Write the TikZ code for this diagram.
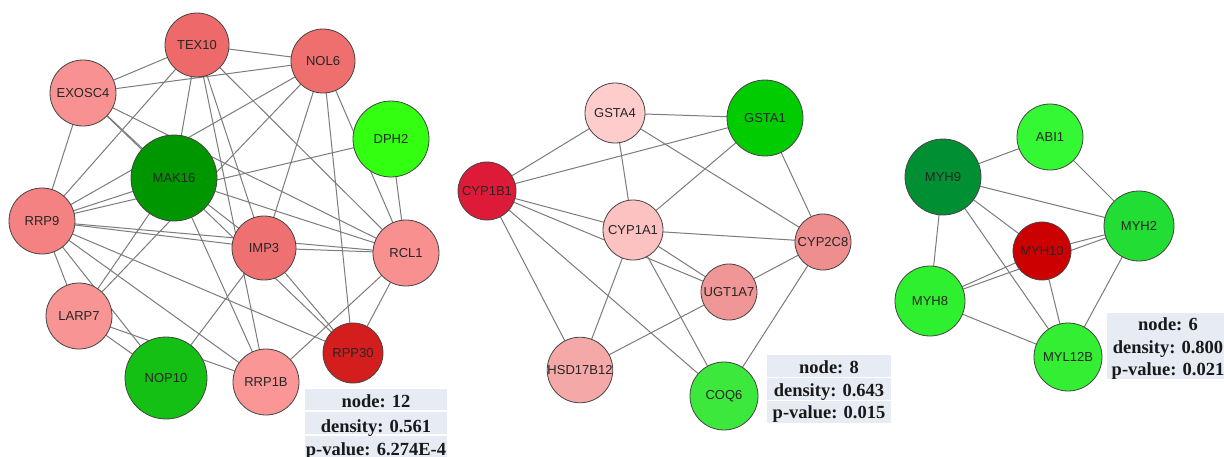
\documentclass[tikz,border=0pt]{standalone}
\usepackage{fontspec}
\setmainfont{Liberation Serif}
\newfontfamily\genefont{Liberation Sans}
\usetikzlibrary{backgrounds}
\definecolor{edgec}{HTML}{7C7C7C}
\definecolor{rimc}{HTML}{444444}
\definecolor{infobg}{HTML}{E6EBF4}
% network 1
\definecolor{cTEX}{HTML}{EE6A6A}
\definecolor{cNOL}{HTML}{EF6E6E}
\definecolor{cEXO}{HTML}{F89292}
\definecolor{cDPH}{HTML}{33FF11}
\definecolor{cMAK}{HTML}{009600}
\definecolor{cRRP9}{HTML}{F48282}
\definecolor{cIMP}{HTML}{EE7070}
\definecolor{cRCL}{HTML}{F89090}
\definecolor{cLARP}{HTML}{F99494}
\definecolor{cRPP}{HTML}{D41E1E}
\definecolor{cNOP}{HTML}{14C014}
\definecolor{cRRP1B}{HTML}{FA9696}
% network 2
\definecolor{cGSTAf}{HTML}{FFCCCC}
\definecolor{cGSTAo}{HTML}{00CC00}
\definecolor{cCYPb}{HTML}{DD1A38}
\definecolor{cCYPa}{HTML}{FCC2C2}
\definecolor{cCYPc}{HTML}{EE8E8E}
\definecolor{cUGT}{HTML}{F09696}
\definecolor{cHSD}{HTML}{F5A8A8}
\definecolor{cCOQ}{HTML}{3DE83D}
% network 3
\definecolor{cABI}{HTML}{33F833}
\definecolor{cMYH9}{HTML}{008F33}
\definecolor{cMYH2}{HTML}{22DD33}
\definecolor{cMYH10}{HTML}{CC0000}
\definecolor{cMYH8}{HTML}{2EF02E}
\definecolor{cMYL}{HTML}{33EE33}
\begin{document}
\begin{tikzpicture}[x=1pt,y=-1pt,
  gene/.style={circle, draw=rimc, line width=0.8pt, inner sep=0pt,
    font=\genefont\fontsize{13}{13}\selectfont, text=black!85},
  lnk/.style={draw=edgec, line width=1pt},
  inforow/.style={fill=infobg, inner sep=0pt, minimum height=21.5pt},
  infotext/.style={anchor=base, inner sep=0pt,
    font=\fontsize{18.5}{18.5}\selectfont\bfseries, text=black!90}]
\useasboundingbox (0,0) rectangle (1224,456);

% ---------- network 1 ----------
\node[gene, minimum size=64pt, fill=cTEX] (tex) at (197,45) {TEX10};
\node[gene, minimum size=64pt, fill=cNOL] (nol) at (323,61) {NOL6};
\node[gene, minimum size=66pt, fill=cEXO] (exo) at (83,93) {EXOSC4};
\node[gene, minimum size=76pt, fill=cDPH] (dph) at (391,139) {DPH2};
\node[gene, minimum size=86pt, fill=cMAK] (mak) at (174,178) {MAK16};
\node[gene, minimum size=66pt, fill=cRRP9] (rrp9) at (42,221) {RRP9};
\node[gene, minimum size=64pt, fill=cIMP] (imp) at (264,248) {IMP3};
\node[gene, minimum size=66pt, fill=cRCL] (rcl) at (406,253) {RCL1};
\node[gene, minimum size=66pt, fill=cLARP] (larp) at (79,316) {LARP7};
\node[gene, minimum size=60pt, fill=cRPP] (rpp) at (353,353) {RPP30};
\node[gene, minimum size=82pt, fill=cNOP] (nop) at (166,378) {NOP10};
\node[gene, minimum size=66pt, fill=cRRP1B] (rrp1b) at (266,382) {RRP1B};

% ---------- network 2 ----------
\node[gene, minimum size=60pt, fill=cGSTAf] (gsta4) at (615,113) {GSTA4};
\node[gene, minimum size=76pt, fill=cGSTAo] (gsta1) at (765,118) {GSTA1};
\node[gene, minimum size=58pt, fill=cCYPb] (cyp1b1) at (487,191) {CYP1B1};
\node[gene, minimum size=60pt, fill=cCYPa] (cyp1a1) at (633,230) {CYP1A1};
\node[gene, minimum size=56pt, fill=cCYPc] (cyp2c8) at (823,242) {CYP2C8};
\node[gene, minimum size=56pt, fill=cUGT] (ugt) at (729,292) {UGT1A7};
\node[gene, minimum size=60pt, fill=cHSD] (hsd) at (580,370) {HSD17B12};
\node[gene, minimum size=68pt, fill=cCOQ] (coq) at (724,396) {COQ6};

% ---------- network 3 ----------
\node[gene, minimum size=66pt, fill=cABI] (abi) at (1050,137) {ABI1};
\node[gene, minimum size=76pt, fill=cMYH9] (myh9) at (943,177) {MYH9};
\node[gene, minimum size=70pt, fill=cMYH2] (myh2) at (1139,226) {MYH2};
\node[gene, minimum size=58pt, fill=cMYH10] (myh10) at (1042,251) {MYH10};
\node[gene, minimum size=70pt, fill=cMYH8] (myh8) at (930,301) {MYH8};
\node[gene, minimum size=68pt, fill=cMYL] (myl) at (1068,357) {MYL12B};

% ---------- info boxes ----------
\node[inforow, minimum width=142pt] (r1a) at (376,399.5) {};
\node[inforow, minimum width=142pt] (r1b) at (376,423) {};
\node[inforow, minimum width=142pt] (r1c) at (376,446.5) {};
\node[infotext] (t1a) at (376,407.5) {node: 12};
\node[infotext] (t1b) at (376,432) {density: 0.561};
\node[infotext] (t1c) at (376,455.5) {p-value: 6.274E-4};

\node[inforow, minimum width=124pt] (r2a) at (829,366) {};
\node[inforow, minimum width=124pt] (r2b) at (829,389) {};
\node[inforow, minimum width=124pt] (r2c) at (829,412) {};
\node[infotext] (t2a) at (829,373.5) {node: 8};
\node[infotext] (t2b) at (829,396.5) {density: 0.643};
\node[infotext] (t2c) at (829,418.5) {p-value: 0.015};

\node[inforow, minimum width=118pt] (r3a) at (1166,324) {};
\node[inforow, minimum width=118pt] (r3b) at (1166,346) {};
\node[inforow, minimum width=118pt] (r3c) at (1166,368) {};
\node[infotext] (t3a) at (1168,330.5) {node: 6};
\node[infotext] (t3b) at (1168,353) {density: 0.800};
\node[infotext] (t3c) at (1168,375) {p-value: 0.021};

\begin{pgfonlayer}{background}
\fill[white] (0,0) rectangle (1224,456);
% network 1 edges
\foreach \a/\b in {tex/nol, tex/exo, tex/rrp9, tex/mak, tex/imp, tex/rrp1b, tex/rcl,
  nol/exo, nol/rrp9, nol/larp, nol/imp, nol/rpp, nol/rcl,
  exo/rrp9, exo/mak, exo/rpp, exo/rcl,
  dph/rrp9, dph/rcl,
  rrp9/mak, rrp9/imp, rrp9/rcl, rrp9/rpp, rrp9/rrp1b, rrp9/nop, rrp9/larp,
  mak/rcl, mak/imp, mak/rrp1b, mak/larp,
  imp/rcl, imp/rpp, imp/nop,
  rcl/rrp1b, rcl/rpp,
  larp/nop, larp/rrp1b}
  \draw[lnk] (\a.center) -- (\b.center);
% network 2 edges
\foreach \a/\b in {gsta4/gsta1, gsta4/cyp1b1, gsta4/cyp1a1, gsta4/cyp2c8,
  gsta1/cyp1b1, gsta1/cyp1a1, gsta1/cyp2c8,
  cyp1b1/cyp1a1, cyp1b1/ugt, cyp1b1/coq, cyp1b1/hsd,
  cyp1a1/cyp2c8, cyp1a1/ugt, cyp1a1/hsd, cyp1a1/coq,
  cyp2c8/ugt, cyp2c8/coq, ugt/hsd}
  \draw[lnk] (\a.center) -- (\b.center);
% network 3 edges
\foreach \a/\b in {abi/myh9, abi/myh2, myh9/myh2, myh9/myh10, myh9/myh8, myh9/myl,
  myh10/myh2, myh8/myh2, myh10/myh8, myh10/myl, myh8/myl, myh2/myl}
  \draw[lnk] (\a.center) -- (\b.center);
\end{pgfonlayer}
\end{tikzpicture}
\end{document}
